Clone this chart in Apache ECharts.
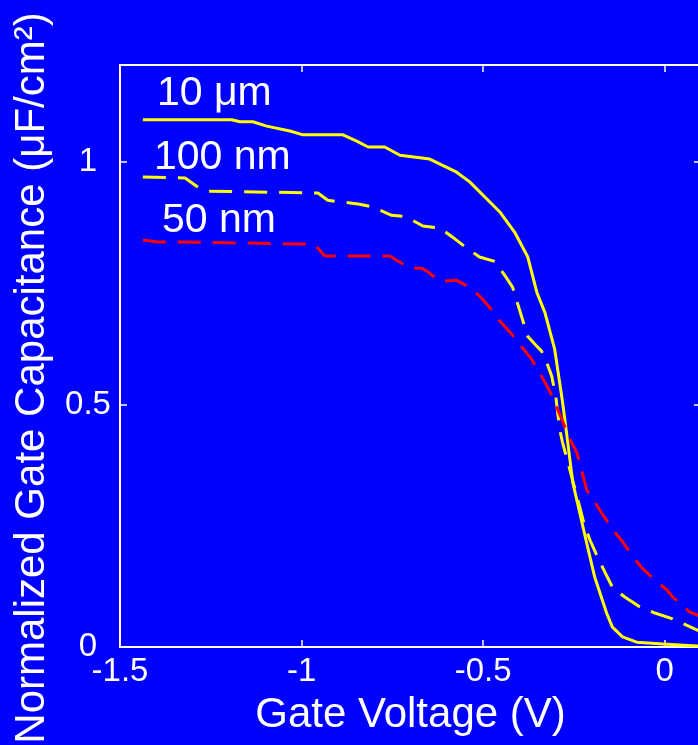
<!DOCTYPE html>
<html>
<head>
<meta charset="utf-8">
<script src="https://cdn.jsdelivr.net/npm/echarts@6/dist/echarts.min.js"></script>
<style>
html,body{margin:0;padding:0;background:#0000FF;}
#chart{width:698px;height:745px;}
</style>
</head>
<body>
<div id="chart"></div>
<script>
// Gate voltage (V) and normalized gate capacitance (uF/cm^2)
const v10um = [-1.437,-1.192,-1.170,-1.134,-1.096,-1.032,-0.996,-0.886,-0.848,-0.817,-0.771,-0.729,-0.647,-0.573,-0.537,-0.454,-0.413,-0.377,-0.352,-0.330,-0.303,-0.283,-0.276,-0.253,-0.215,-0.193,-0.160,-0.144,-0.116,-0.077,-0.005,0.090,0.100];
const c10um = [1.087,1.087,1.083,1.083,1.074,1.064,1.056,1.056,1.043,1.031,1.031,1.014,1.006,0.979,0.959,0.897,0.855,0.804,0.731,0.690,0.614,0.514,0.475,0.339,0.215,0.145,0.070,0.041,0.021,0.010,0.006,0.002,0.002];

const v100nm = [-1.437,-1.321,-1.289,-1.261,-0.955,-0.928,-0.840,-0.804,-0.752,-0.715,-0.666,-0.619,-0.584,-0.551,-0.510,-0.468,-0.441,-0.419,-0.377,-0.352,-0.339,-0.325,-0.311,-0.300,-0.289,-0.281,-0.267,-0.256,-0.234,-0.220,-0.206,-0.184,-0.165,-0.143,-0.110,-0.069,-0.027,0.022,0.060,0.090,0.100];
const c100nm = [0.969,0.967,0.950,0.940,0.936,0.921,0.913,0.907,0.890,0.888,0.868,0.864,0.845,0.826,0.804,0.795,0.767,0.742,0.640,0.620,0.610,0.587,0.558,0.517,0.448,0.421,0.382,0.351,0.289,0.248,0.221,0.184,0.155,0.122,0.103,0.083,0.070,0.058,0.045,0.035,0.032];

const v50nm = [-1.437,-1.395,-1.335,-1.005,-0.963,-0.936,-0.757,-0.702,-0.669,-0.655,-0.619,-0.573,-0.537,-0.509,-0.482,-0.454,-0.421,-0.393,-0.366,-0.339,-0.316,-0.283,-0.261,-0.242,-0.228,-0.215,-0.193,-0.171,-0.143,-0.116,-0.091,-0.063,-0.027,0.006,0.022,0.041,0.069,0.090,0.100];
const c50nm = [0.839,0.835,0.835,0.831,0.829,0.806,0.806,0.781,0.781,0.775,0.754,0.756,0.742,0.723,0.700,0.672,0.645,0.618,0.593,0.558,0.527,0.469,0.428,0.401,0.362,0.324,0.300,0.273,0.242,0.217,0.190,0.163,0.138,0.118,0.103,0.091,0.072,0.066,0.062];

const seriesNames = ['10 \u03bcm','100 nm','50 nm'];
const xTicks = [-1.5,-1,-0.5,0];
const yTicks = [0,0.5,1];
const xTitle = 'Gate Voltage (V)';
const yTitle = 'Normalized Gate Capacitance (\u03bcF/cm\u00b2)';

const FONT = "'Liberation Sans', Arial, Helvetica, sans-serif";
const zip = (a,b) => a.map((x,i)=>[x,b[i]]);

const chart = echarts.init(document.getElementById('chart'), null, {renderer:'canvas'});

const lineAxis = {onZero:false, lineStyle:{color:'#fff', width:2}};
const tickIn = {show:true, inside:true, length:7, lineStyle:{color:'#fff', width:1.5}};

const option = {
  backgroundColor:'#0000FF',
  animation:false,
  grid:{left:120, right:-3, top:65, bottom:98, containLabel:false, outerBoundsMode:'none'},
  xAxis:[{
    type:'value', position:'bottom', min:-1.5, max:0.1, interval:0.5,
    axisLine:lineAxis, axisTick:tickIn, splitLine:{show:false},
    axisLabel:{color:'#fff', fontSize:33, fontFamily:FONT, margin:8, showMaxLabel:false,
      formatter:v => xTicks.includes(Math.round(v*100)/100) ? String(v) : ''},
    name:xTitle, nameLocation:'middle', nameGap:47,
    nameTextStyle:{color:'#fff', fontSize:42, fontFamily:FONT}
  },{
    type:'value', position:'top', min:-1.5, max:0.1, interval:0.5,
    axisLine:lineAxis, axisTick:tickIn, axisLabel:{show:false}, splitLine:{show:false}
  }],
  yAxis:[{
    type:'value', position:'left', min:0, max:1.2, interval:0.5,
    axisLine:lineAxis, axisTick:tickIn, splitLine:{show:false},
    axisLabel:{color:'#fff', fontSize:33, fontFamily:FONT, margin:32, align:'center', showMaxLabel:false,
      formatter:v => yTicks.includes(Math.round(v*100)/100) ? String(v) : ''},
    name:yTitle, nameLocation:'middle', nameGap:67, nameRotate:90,
    nameTextStyle:{color:'#fff', fontSize:42, fontFamily:FONT, padding:[0,44,0,0]}
  },{
    type:'value', position:'right', min:0, max:1.2, interval:0.5,
    axisLine:lineAxis, axisTick:tickIn, axisLabel:{show:false}, splitLine:{show:false}
  }],
  series:[
    {name:seriesNames[0], type:'line', data:zip(v10um,c10um), showSymbol:false, symbol:'none',
      lineStyle:{color:'#FFFF00', width:3}},
    {name:seriesNames[1], type:'line', data:zip(v100nm,c100nm), showSymbol:false, symbol:'none',
      lineStyle:{color:'#FFFF00', width:3, type:[23,12]}},
    {name:seriesNames[2], type:'line', data:zip(v50nm,c50nm), showSymbol:false, symbol:'none',
      lineStyle:{color:'#FF0000', width:3, type:[23,12]}}
  ],
  graphic:[
    {type:'text', left:157, top:73, style:{text:seriesNames[0], fill:'#fff', fontSize:41, fontFamily:FONT}},
    {type:'text', left:154, top:137, style:{text:seriesNames[1], fill:'#fff', fontSize:41, fontFamily:FONT}},
    {type:'text', left:162, top:200, style:{text:seriesNames[2], fill:'#fff', fontSize:41, fontFamily:FONT}}
  ]
};
chart.setOption(option);
</script>
</body>
</html>
